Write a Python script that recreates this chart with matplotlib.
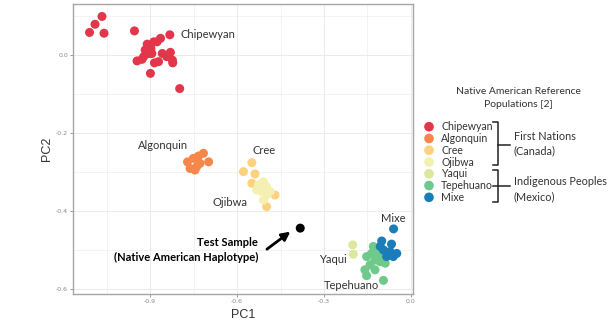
"""PCA scatter of Native American reference populations with a test sample."""

import matplotlib

matplotlib.use("Agg")
import matplotlib.pyplot as plt
from matplotlib.ticker import MultipleLocator

TEXT = "#333333"
GRID = "#EBEBEB"
BORDER = "#A6A6A6"

POPS = ["Chipewyan", "Algonquin", "Cree", "Ojibwa", "Yaqui", "Tepehuano", "Mixe"]
COLORS = ["#E2374A", "#F6874A", "#FDD27E", "#F4F0B2", "#DCE89B", "#6FC98A", "#1A7DB7"]

CHIPEWYAN_PC1 = [-1.109, -1.090, -1.066, -1.059, -0.954, -0.832, -0.864, -0.887, -0.910,
                 -0.897, -0.917, -0.905, -0.922, -0.945, -0.928, -0.858, -0.830, -0.823,
                 -0.822, -0.885, -0.871, -0.899, -0.798, -0.876, -0.894, -0.843]
CHIPEWYAN_PC2 = [0.058, 0.079, 0.099, 0.056, 0.062, 0.052, 0.043, 0.034, 0.028,
                 0.017, 0.013, 0.004, -0.004, -0.015, -0.011, 0.004, 0.007, -0.013,
                 -0.020, -0.020, -0.017, -0.047, -0.086, 0.034, 0.004, -0.004]
ALGONQUIN_PC1 = [-0.771, -0.751, -0.733, -0.716, -0.698, -0.762, -0.745, -0.728, -0.739]
ALGONQUIN_PC2 = [-0.274, -0.265, -0.259, -0.252, -0.274, -0.291, -0.295, -0.278, -0.286]
CREE_PC1 = [-0.549, -0.578, -0.538, -0.549, -0.498, -0.469]
CREE_PC2 = [-0.276, -0.299, -0.305, -0.329, -0.389, -0.359]
OJIBWA_PC1 = [-0.526, -0.509, -0.498, -0.515, -0.532, -0.498, -0.509, -0.486]
OJIBWA_PC2 = [-0.333, -0.325, -0.338, -0.350, -0.346, -0.359, -0.372, -0.350]
YAQUI_PC1 = [-0.201, -0.199]
YAQUI_PC2 = [-0.487, -0.511]
TEPEHUANO_PC1 = [-0.153, -0.136, -0.118, -0.124, -0.107, -0.141, -0.159, -0.153, -0.124,
                 -0.095, -0.101, -0.130, -0.089, -0.115]
TEPEHUANO_PC2 = [-0.517, -0.509, -0.500, -0.526, -0.530, -0.538, -0.551, -0.566, -0.551,
                 -0.578, -0.517, -0.491, -0.534, -0.512]
MIXE_PC1 = [-0.060, -0.101, -0.067, -0.095, -0.072, -0.049, -0.061, -0.084, -0.106]
MIXE_PC2 = [-0.446, -0.477, -0.485, -0.500, -0.504, -0.509, -0.517, -0.517, -0.491]

PC1_DATA = [CHIPEWYAN_PC1, ALGONQUIN_PC1, CREE_PC1, OJIBWA_PC1, YAQUI_PC1, TEPEHUANO_PC1, MIXE_PC1]
PC2_DATA = [CHIPEWYAN_PC2, ALGONQUIN_PC2, CREE_PC2, OJIBWA_PC2, YAQUI_PC2, TEPEHUANO_PC2, MIXE_PC2]

# label anchor per population (data coords)
LABEL_POS = [(-0.701, 0.052), (-0.855, -0.232), (-0.507, -0.244), (-0.623, -0.378),
             (-0.268, -0.524), (-0.204, -0.591), (-0.060, -0.419)]

TEST_PC1 = -0.382
TEST_PC2 = -0.444

X_TICKS = [-0.9, -0.6, -0.3, 0.0]
Y_TICKS = [0.0, -0.2, -0.4, -0.6]

GROUPS = ["First Nations\n(Canada)", "Indigenous Peoples\n(Mexico)"]


def main() -> None:
    plt.rcParams.update({"font.family": ["Lato", "DejaVu Sans"]})
    fig = plt.figure(figsize=(6.1, 3.21), dpi=100)
    ax = fig.add_axes([73 / 610, 1 - 294 / 321, 340 / 610, 290 / 321])

    for pc1, pc2, color in zip(PC1_DATA, PC2_DATA, COLORS):
        ax.scatter(pc1, pc2, s=42, color=color, edgecolors="none", zorder=3)
    ax.scatter([TEST_PC1], [TEST_PC2], s=42, color="black", edgecolors="none", zorder=3)

    for name, (x, y) in zip(POPS, LABEL_POS):
        ax.text(x, y, name, ha="center", va="center", fontsize=8, color=TEXT, zorder=4)

    ax.annotate("", xy=(TEST_PC1 - 0.034, TEST_PC2 - 0.009), xytext=(-0.497, -0.498),
                arrowprops=dict(arrowstyle="-|>,head_length=0.5,head_width=0.25",
                                color="black", lw=2.0, shrinkA=0, shrinkB=0), zorder=4)
    ax.text(-0.528, -0.500, "Test Sample\n(Native American Haplotype)", ha="right",
            va="center", multialignment="right", fontsize=8, fontweight="bold",
            color="black", linespacing=1.35, zorder=4)

    ax.set_xlim(-1.166, 0.007)
    ax.set_ylim(-0.613, 0.131)
    ax.xaxis.set_minor_locator(MultipleLocator(0.15))
    ax.yaxis.set_minor_locator(MultipleLocator(0.1))
    ax.set_xticks(X_TICKS, [f"{v:.1f}".replace("\u2212", "-") for v in X_TICKS],
                  family=["DejaVu Sans"])
    ax.set_yticks(Y_TICKS, [f"{v:.1f}" for v in Y_TICKS], family=["DejaVu Sans"])
    ax.tick_params(which="major", length=2, width=0.6, color="#888888", labelsize=4.5,
                   labelcolor="#888888", pad=1.5)
    ax.tick_params(which="minor", length=0)
    ax.grid(which="major", color=GRID, linewidth=0.7, zorder=0)
    ax.grid(which="minor", color=GRID, linewidth=0.4, zorder=0)
    ax.set_axisbelow(True)
    for sp in ax.spines.values():
        sp.set_color(BORDER)
        sp.set_linewidth(1.0)
    ax.set_xlabel("PC1", fontsize=9, color=TEXT, family=["Liberation Sans"], labelpad=4)
    ax.set_ylabel("PC2", fontsize=9, color=TEXT, family=["Liberation Sans"], labelpad=2)

    # legend panel in pixel coordinates
    lax = fig.add_axes([0, 0, 1, 1])
    lax.set_xlim(0, 610)
    lax.set_ylim(321, 0)
    lax.axis("off")
    lax.text(518, 98, "Native American Reference\nPopulations [2]", ha="center",
             va="center", fontsize=7.5, color=TEXT, linespacing=1.45)
    row0, step = 126.7, 11.77
    for i, (name, color) in enumerate(zip(POPS, COLORS)):
        y = row0 + i * step
        lax.scatter([429], [y], s=48, color=color, edgecolors="none")
        lax.text(441, y, name, ha="left", va="center", fontsize=7.6, color=TEXT)

    lw = 1.1
    # First Nations bracket
    lax.plot([493, 498, 498, 493], [122, 122, 165, 165], color="#222222", lw=lw)
    lax.plot([498, 510], [145, 145], color="#222222", lw=lw)
    lax.text(514, 143.5, GROUPS[0], ha="left", va="center", fontsize=7.8, color=TEXT,
             linespacing=1.4)
    # Mexico bracket
    lax.plot([493, 498, 498, 493], [169.5, 169.5, 201.5, 201.5], color="#222222", lw=lw)
    lax.plot([493, 510], [186, 186], color="#222222", lw=lw)
    lax.text(514, 189, GROUPS[1], ha="left", va="center", fontsize=7.8, color=TEXT,
             linespacing=1.4)

    fig.savefig("out.png", dpi=100)


if __name__ == "__main__":
    main()
